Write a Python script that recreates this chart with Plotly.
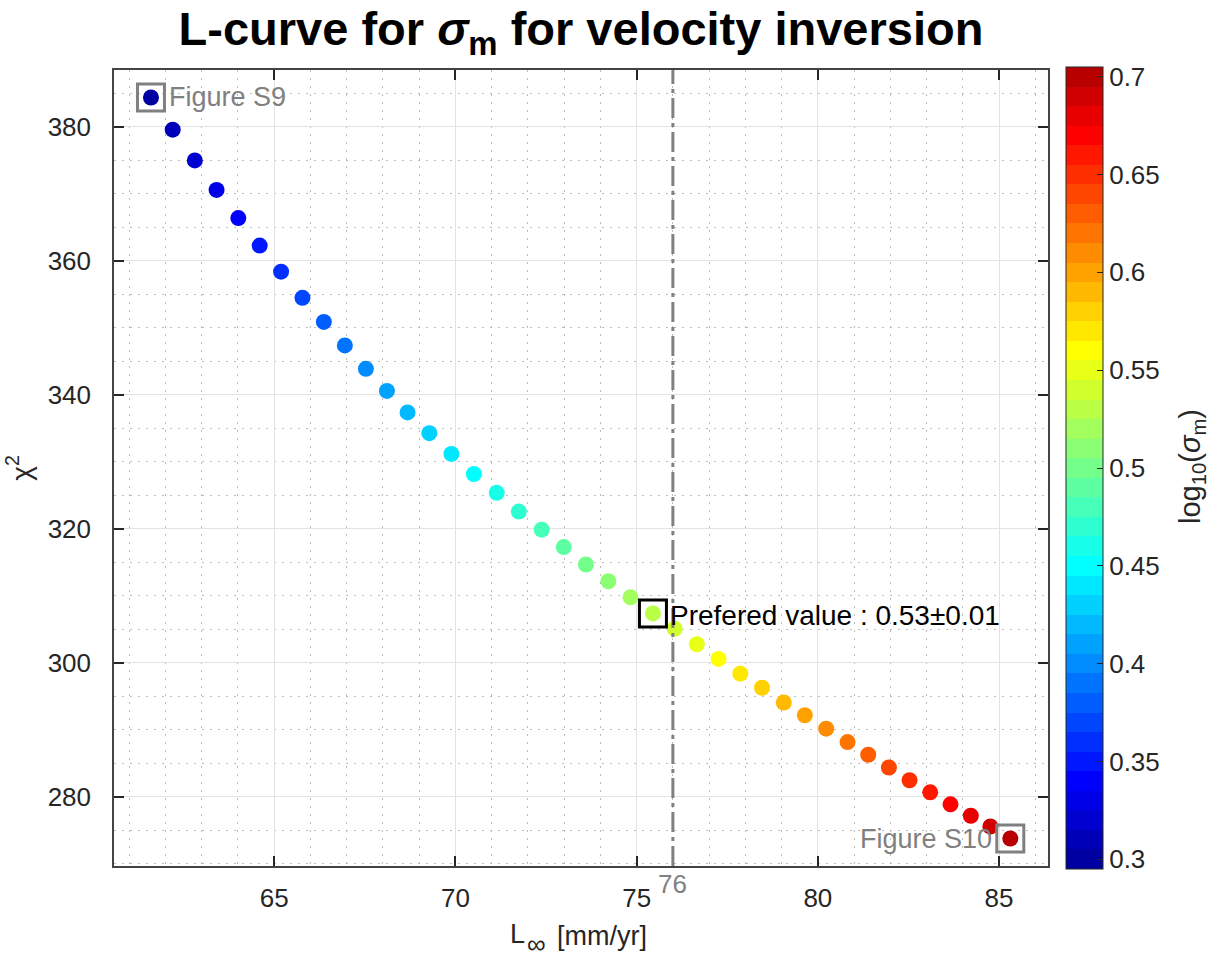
import numpy as np
import plotly.graph_objects as go

# ---------------- data ----------------
log_sigma = [round(0.30 + 0.01 * i, 2) for i in range(41)]
L_inf = [61.60, 62.20, 62.81, 63.41, 64.01, 64.60, 65.19, 65.78, 66.37, 66.95,
         67.53, 68.11, 68.68, 69.28, 69.89, 70.51, 71.14, 71.75, 72.38, 72.99,
         73.60, 74.22, 74.83, 75.45, 76.05, 76.66, 77.26, 77.86, 78.46, 79.06,
         79.64, 80.23, 80.82, 81.39, 81.96, 82.53, 83.10, 83.66, 84.22, 84.76,
         85.31]
chi2 = [384.4, 379.6, 375.0, 370.6, 366.4, 362.3, 358.4, 354.5, 350.9, 347.4,
        343.9, 340.6, 337.4, 334.3, 331.2, 328.2, 325.4, 322.6, 319.9, 317.3,
        314.7, 312.2, 309.8, 307.4, 305.1, 302.8, 300.6, 298.4, 296.3, 294.1,
        292.2, 290.2, 288.2, 286.3, 284.4, 282.5, 280.7, 278.9, 277.2, 275.6,
        273.8]
pref_index = 23
pref_label = "Prefered value : 0.53±0.01"
vline_x = 76
x_ticks = [65, 70, 75, 80, 85]
y_ticks = [280, 300, 320, 340, 360, 380]
cb_ticks = [0.3, 0.35, 0.4, 0.45, 0.5, 0.55, 0.6, 0.65, 0.7]


# ------------- MATLAB jet(m) colormap, discrete -------------
def jet(m):
    n = int(np.ceil(m / 4))
    u = np.concatenate([np.arange(1, n + 1) / n, np.ones(n - 1), np.arange(n, 0, -1) / n])
    g = int(np.ceil(n / 2)) - (1 if m % 4 == 1 else 0) + np.arange(1, len(u) + 1)
    r = g + n
    b = g - n
    J = np.zeros((m, 3))
    J[r[r <= m] - 1, 0] = u[r <= m]
    J[g[g <= m] - 1, 1] = u[g <= m]
    J[b[b >= 1] - 1, 2] = u[b >= 1]
    return J


N = len(log_sigma)
cmap = jet(N)
colorscale = []
for i, c in enumerate(cmap):
    col = "rgb(%d,%d,%d)" % tuple(int(round(v * 255)) for v in c)
    colorscale.append([i / N, col])
    colorscale.append([(i + 1) / N, col])
cmin = log_sigma[0] - 0.005
cmax = log_sigma[-1] + 0.005

FONT = "Liberation Sans"
TXT = "#262626"

# plot-area geometry (pixels) used for paper-coordinate placement
L, R, T, B = 114, 1048, 70, 866
W, H = R - L, B - T


def px_x(px):
    return (px - L) / W


def px_y(py):
    return (B - py) / H


fig = go.Figure()

fig.add_trace(go.Scatter(
    x=L_inf, y=chi2, mode="markers",
    marker=dict(size=16, color=log_sigma, colorscale=colorscale, cmin=cmin, cmax=cmax,
                line=dict(width=0),
                colorbar=dict(
                    thickness=37, lenmode="pixels", len=802, y=0.5, yanchor="middle",
                    x=px_x(1066), xanchor="left", xpad=0, ypad=0,
                    outlinewidth=1, outlinecolor=TXT,
                    tickvals=cb_ticks, ticktext=[f"{v:g}" for v in cb_ticks],
                    ticks="inside", ticklen=6, tickcolor=TXT,
                    tickfont=dict(family=FONT, size=26, color=TXT),
                )),
    showlegend=False, hoverinfo="x+y",
))

# highlight boxes
fig.add_trace(go.Scatter(
    x=[L_inf[0], L_inf[-1]], y=[chi2[0], chi2[-1]], mode="markers",
    marker=dict(symbol="square-open", size=27, color="#808080", line=dict(width=3, color="#808080")),
    showlegend=False, hoverinfo="skip"))
fig.add_trace(go.Scatter(
    x=[L_inf[pref_index]], y=[chi2[pref_index]], mode="markers",
    marker=dict(symbol="square-open", size=27, color="black", line=dict(width=3, color="black")),
    showlegend=False, hoverinfo="skip"))

# vertical dash-dot line
fig.add_shape(type="line", x0=vline_x, x1=vline_x, y0=0, y1=1, xref="x", yref="paper",
              line=dict(color="#808080", width=3, dash="20px,5px,4px,5px"), layer="above")

fig.add_annotation(x=L_inf[0], y=chi2[0], text="Figure S9", showarrow=False,
                   xanchor="left", yanchor="middle", xshift=16,
                   font=dict(family=FONT, size=27, color="#808080"))
fig.add_annotation(x=L_inf[-1], y=chi2[-1], text="Figure S10", showarrow=False,
                   xanchor="right", yanchor="middle", xshift=-16,
                   font=dict(family=FONT, size=27, color="#808080"))
fig.add_annotation(x=L_inf[pref_index], y=chi2[pref_index], text=pref_label, showarrow=False,
                   xanchor="left", yanchor="middle", xshift=15, yshift=-2,
                   font=dict(family=FONT, size=28, color="black"))
fig.add_annotation(x=vline_x, y=0, xref="x", yref="paper", text=str(vline_x), showarrow=False,
                   xanchor="center", yanchor="middle", yshift=-18,
                   font=dict(family=FONT, size=26, color="#808080"))

# x-axis title: L with a large subscript infinity
fig.add_annotation(x=px_x(508), y=px_y(934), xref="paper", yref="paper", text="L",
                   showarrow=False, xanchor="left", yanchor="middle",
                   font=dict(family=FONT, size=27, color=TXT))
fig.add_annotation(x=px_x(525), y=px_y(944), xref="paper", yref="paper", text="∞",
                   showarrow=False, xanchor="left", yanchor="middle",
                   font=dict(family=FONT, size=26, color=TXT))
fig.add_annotation(x=px_x(555), y=px_y(936), xref="paper", yref="paper", text="[mm/yr]",
                   showarrow=False, xanchor="left", yanchor="middle",
                   font=dict(family=FONT, size=27, color=TXT))

# colorbar label
fig.add_annotation(x=px_x(1192), y=px_y(467), xref="paper", yref="paper",
                   text="log<sub>10</sub>(<i>σ</i><sub>m</sub>)", textangle=-90,
                   showarrow=False, xanchor="center", yanchor="middle",
                   font=dict(family=FONT, size=29, color=TXT))

axis_common = dict(
    showline=True, linecolor="#444444", linewidth=1.5, mirror="ticks",
    ticks="inside", ticklen=10, tickcolor=TXT, tickwidth=1.5,
    showgrid=True, gridcolor="#e3e3e3", gridwidth=1.2,
    zeroline=False,
    tickfont=dict(family=FONT, size=26, color=TXT),
)

fig.update_xaxes(
    range=[60.58, 86.35], tickvals=x_ticks,
    minor=dict(dtick=1, showgrid=True, gridcolor="#bdbdbd", griddash="2px,6px", gridwidth=1, ticks=""),
    ticklabelstandoff=8,
    **axis_common)
fig.update_yaxes(
    range=[269.7, 388.5], tickvals=y_ticks,
    minor=dict(dtick=5, showgrid=True, gridcolor="#bdbdbd", griddash="2px,6px", gridwidth=1, ticks=""),
    title=dict(text="χ<sup>2</sup>", font=dict(family=FONT, size=28, color=TXT), standoff=8),
    ticklabelstandoff=16,
    **axis_common)

fig.update_layout(
    width=1224, height=960,
    margin=dict(l=L, r=1224 - R, t=T, b=960 - B, autoexpand=False),
    paper_bgcolor="white", plot_bgcolor="white",
    title=dict(text="<b>L-curve for <i>σ</i><sub>m</sub> for velocity inversion</b>",
               x=(L + R) / 2 / 1224, xanchor="center", y=1 - 29 / 960, yanchor="middle",
               font=dict(family=FONT, size=47, color="black")),
    font=dict(family=FONT, color=TXT),
)

fig.write_html("out.html")
